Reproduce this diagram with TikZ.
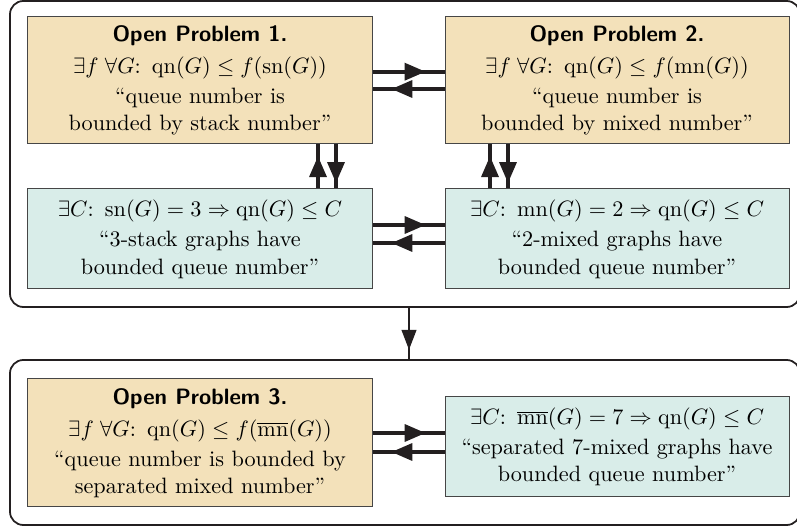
\documentclass[tikz,border=0pt]{standalone}
\usetikzlibrary{arrows.meta,decorations.markings}
\definecolor{optan}{RGB}{243,225,186}
\definecolor{opteal}{RGB}{217,237,233}
\definecolor{boxline}{RGB}{70,70,70}
\definecolor{arrowc}{RGB}{35,31,32}
\tikzset{
  container/.style={draw=arrowc, line width=0.8pt, rounded corners=6pt, inner sep=0pt},
  opbox/.style={draw=boxline, fill=optan, line width=0.45pt, minimum width=154.8pt, align=center, inner sep=0pt},
  tealbox/.style={draw=boxline, fill=opteal, line width=0.45pt, minimum width=154.8pt, align=center, inner sep=0pt},
  conn/.style={draw=arrowc, line width=1.9pt, decoration={markings, mark=at position #1 with {\arrow{Triangle[length=9.5pt,width=7.5pt]}}}, postaction={decorate}},
  conn/.default=0.74,
  thinconn/.style={draw=arrowc, line width=1.25pt, decoration={markings, mark=at position #1 with {\arrow{Triangle[length=9pt,width=6.5pt]}}}, postaction={decorate}},
  thinconn/.default=0.82
}
\begin{document}
\begin{tikzpicture}[x=0.45pt, y=-0.45pt]
\useasboundingbox (0,0) rectangle (797,527);
% containers
\node[container, minimum width=355.5pt, minimum height=137.7pt] (top) at (405,154) {};
\node[container, minimum width=355.5pt, minimum height=74.25pt] (bot) at (405,442.5) {};
% boxes
\node[opbox, minimum height=57.15pt] (op1) at (200,80.5)
  {{\sffamily\bfseries Open Problem 1.}\\[2.35pt]
   $\exists f\;\forall G\colon\ \mathrm{qn}(G)\le f(\mathrm{sn}(G))$\\[1.45pt]
   ``queue number is\\ bounded by stack number''};
\node[opbox, minimum height=57.15pt] (op2) at (617,80.5)
  {{\sffamily\bfseries Open Problem 2.}\\[2.35pt]
   $\exists f\;\forall G\colon\ \mathrm{qn}(G)\le f(\mathrm{mn}(G))$\\[1.45pt]
   ``queue number is\\ bounded by mixed number''};
\node[tealbox, minimum height=45pt] (t1) at (200,239)
  {$\exists C\colon\ \mathrm{sn}(G)=3\Rightarrow\mathrm{qn}(G)\le C$\\[1.45pt]
   ``3-stack graphs have\\[0.6pt] bounded queue number''};
\node[tealbox, minimum height=45pt] (t2) at (617,239)
  {$\exists C\colon\ \mathrm{mn}(G)=2\Rightarrow\mathrm{qn}(G)\le C$\\[1.45pt]
   ``2-mixed graphs have\\[0.6pt] bounded queue number''};
\node[opbox, minimum height=57.6pt] (op3) at (200,443)
  {{\sffamily\bfseries Open Problem 3.}\\[2.35pt]
   $\exists f\;\forall G\colon\ \mathrm{qn}(G)\le f(\overline{\mathrm{mn}}(G))$\\[1.45pt]
   ``queue number is bounded by\\ separated mixed number''};
\node[tealbox, minimum height=45pt] (t3) at (617,447)
  {$\exists C\colon\ \overline{\mathrm{mn}}(G)=7\Rightarrow\mathrm{qn}(G)\le C$\\[1.45pt]
   ``separated 7-mixed graphs have\\ bounded queue number''};
% horizontal arrows
\draw[conn] (op1.east |- 0,71.7) -- (op2.west |- 0,71.7);
\draw[conn] (op2.west |- 0,89) -- (op1.east |- 0,89);
\draw[conn] (t1.east |- 0,225) -- (t2.west |- 0,225);
\draw[conn] (t2.west |- 0,243) -- (t1.east |- 0,243);
\draw[conn] (op3.east |- 0,433) -- (t3.west |- 0,433);
\draw[conn] (t3.west |- 0,452) -- (op3.east |- 0,452);
% vertical arrows
\draw[conn=0.74] (t1.north -| 318,0) -- (op1.south -| 318,0);
\draw[conn=0.88] (op1.south -| 336,0) -- (t1.north -| 336,0);
\draw[conn=0.74] (t2.north -| 490,0) -- (op2.south -| 490,0);
\draw[conn=0.88] (op2.south -| 508,0) -- (t2.north -| 508,0);
% between containers
\draw[thinconn] (top.south -| 409,0) -- (bot.north -| 409,0);
\end{tikzpicture}
\end{document}
